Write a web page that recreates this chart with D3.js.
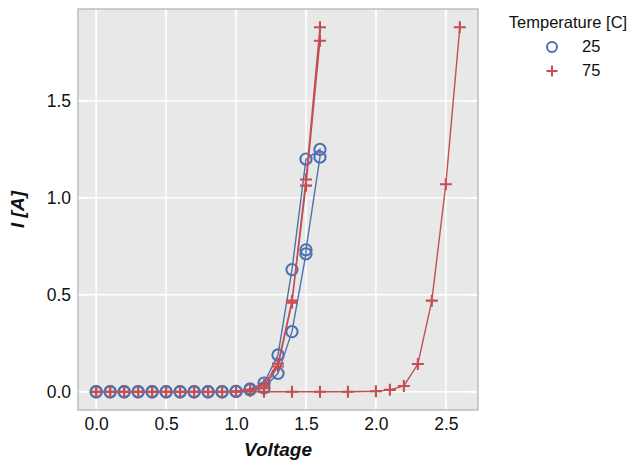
<!DOCTYPE html>
<html>
<head>
<meta charset="utf-8">
<script src="https://cdn.jsdelivr.net/npm/d3@7"></script>
<style>
  html, body { margin: 0; padding: 0; background: #ffffff; }
  svg { display: block; font-family: "Liberation Sans", Arial, sans-serif; }
</style>
</head>
<body>
<svg id="chart" width="644" height="471"></svg>
<script>
// ---------------- data ----------------
const seriesNames = ["25", "75"];
const legendTitle = "Temperature [C]";
const xLabel = "Voltage";
const yLabel = "I [A]";
const xTicks = [0.0, 0.5, 1.0, 1.5, 2.0, 2.5];
const yTicks = [0.0, 0.5, 1.0, 1.5];

// 25 C: sweep up then sweep down
const v25 = [0.0,0.1,0.2,0.3,0.4,0.5,0.6,0.7,0.8,0.9,1.0,1.1,1.2,1.3,1.4,1.5,1.6,
             1.6,1.5,1.5,1.4,1.3,1.2,1.1,1.0,0.9,0.8,0.7,0.6,0.5,0.4,0.3,0.2,0.1,0.0];
const i25 = [0,0,0,0,0,0,0,0,0,0,0.002,0.015,0.045,0.19,0.63,1.20,1.25,
             1.21,0.732,0.711,0.31,0.095,0.02,0.01,0.002,0,0,0,0,0,0,0,0,0,0];

// 75 C: sweep up, sweep down, then second run
const v75 = [0.0,0.1,0.2,0.3,0.4,0.5,0.6,0.7,0.8,0.9,1.0,1.1,1.2,1.3,1.4,1.5,1.6,
             1.6,1.5,1.4,1.3,1.2,1.1,1.0,0.9,0.8,0.7,0.6,0.5,0.4,0.3,0.2,0.1,0.0,
             1.2,1.4,1.6,1.8,2.0,2.1,2.2,2.3,2.4,2.5,2.6];
const i75 = [0,0,0,0,0,0,0,0,0,0,0.002,0.01,0.035,0.145,0.47,1.095,1.88,
             1.81,1.063,0.46,0.13,0.02,0.005,0,0,0,0,0,0,0,0,0,0,0,
             0,0,0,0,0.003,0.01,0.03,0.143,0.47,1.07,1.88];

// ---------------- layout ----------------
const svg = d3.select("#chart");
const L = 78, R = 478, T = 9, B = 410;
const x = d3.scaleLinear().domain([-0.13, 2.73]).range([L, R]);
const y = d3.scaleLinear().domain([-0.094, 1.974]).range([B, T]);
const blue = "#4C72B0", red = "#C44E52";
const bg = "#e8e8e8", borderCol = "#b0b0b0";

svg.append("rect").attr("x", L).attr("y", T).attr("width", R - L).attr("height", B - T)
  .attr("fill", bg);

// grid
const grid = svg.append("g");
grid.selectAll("line.gx").data(xTicks).enter().append("line")
  .attr("x1", d => x(d)).attr("x2", d => x(d)).attr("y1", T).attr("y2", B)
  .attr("stroke", "#fff").attr("stroke-width", 1.5);
grid.selectAll("line.gy").data(yTicks).enter().append("line")
  .attr("x1", L).attr("x2", R).attr("y1", d => y(d)).attr("y2", d => y(d))
  .attr("stroke", "#fff").attr("stroke-width", 1.5);

// inward white tick marks
const tk = svg.append("g").attr("stroke", "#fff").attr("stroke-width", 2);
xTicks.forEach(d => {
  tk.append("line").attr("x1", x(d)).attr("x2", x(d)).attr("y1", B).attr("y2", B - 8);
  tk.append("line").attr("x1", x(d)).attr("x2", x(d)).attr("y1", T).attr("y2", T + 8);
});
yTicks.forEach(d => {
  tk.append("line").attr("x1", L).attr("x2", L + 8).attr("y1", y(d)).attr("y2", y(d));
  tk.append("line").attr("x1", R).attr("x2", R - 8).attr("y1", y(d)).attr("y2", y(d));
});

// axes (labels only)
const xAxis = d3.axisBottom(x).tickValues(xTicks).tickFormat(d3.format(".1f")).tickSize(0).tickPadding(8);
const yAxis = d3.axisLeft(y).tickValues(yTicks).tickFormat(d3.format(".1f")).tickSize(0).tickPadding(7);
const gx = svg.append("g").attr("transform", `translate(0,${B})`).call(xAxis);
const gy = svg.append("g").attr("transform", `translate(${L},0)`).call(yAxis);
[gx, gy].forEach(g => {
  g.select(".domain").remove();
  g.selectAll("text").attr("font-size", 17.5).attr("fill", "#111")
   .attr("font-family", "'Liberation Sans', Arial, sans-serif");
});

// border
svg.append("rect").attr("x", L).attr("y", T).attr("width", R - L).attr("height", B - T)
  .attr("fill", "none").attr("stroke", borderCol).attr("stroke-width", 1.2);

// series
const line = d3.line().x(d => x(d[0])).y(d => y(d[1]));
const pts25 = v25.map((v, k) => [v, i25[k]]);
const pts75 = v75.map((v, k) => [v, i75[k]]);

svg.append("path").datum(pts25).attr("d", line).attr("fill", "none")
  .attr("stroke", blue).attr("stroke-width", 1.4);
svg.append("g").selectAll("circle").data(pts25).enter().append("circle")
  .attr("cx", d => x(d[0])).attr("cy", d => y(d[1])).attr("r", 5.6)
  .attr("fill", "none").attr("stroke", blue).attr("stroke-width", 2.1);

svg.append("path").datum(pts75).attr("d", line).attr("fill", "none")
  .attr("stroke", red).attr("stroke-width", 1.4);
const gp = svg.append("g");
gp.selectAll("path").data(pts75).enter().append("path")
  .attr("d", d => {
    const cx = x(d[0]), cy = y(d[1]), h = 6;
    return `M${cx - h},${cy}H${cx + h}M${cx},${cy - h}V${cy + h}`;
  })
  .attr("stroke", red).attr("stroke-width", 2.1).attr("fill", "none");

// axis titles
svg.append("text").attr("x", (L + R) / 2).attr("y", 456).attr("text-anchor", "middle")
  .attr("font-size", 19).attr("font-weight", "bold").attr("font-style", "italic")
  .attr("fill", "#111").text(xLabel);
svg.append("text").attr("transform", `translate(24,${(T + B) / 2}) rotate(-90)`)
  .attr("text-anchor", "middle").attr("font-size", 19).attr("font-weight", "bold")
  .attr("font-style", "italic").attr("fill", "#111").text(yLabel);

// legend
const lg = svg.append("g");
lg.append("text").attr("x", 568).attr("y", 28).attr("text-anchor", "middle")
  .attr("font-size", 16.5).attr("fill", "#111").text(legendTitle);
lg.append("circle").attr("cx", 552).attr("cy", 47).attr("r", 5)
  .attr("fill", "none").attr("stroke", blue).attr("stroke-width", 2);
lg.append("path").attr("d", `M546.5,71H557.5M552,65.5V76.5`)
  .attr("stroke", red).attr("stroke-width", 2);
lg.append("text").attr("x", 582).attr("y", 52).attr("font-size", 16.5).attr("fill", "#111").text(seriesNames[0]);
lg.append("text").attr("x", 582).attr("y", 76).attr("font-size", 16.5).attr("fill", "#111").text(seriesNames[1]);
</script>
</body>
</html>
